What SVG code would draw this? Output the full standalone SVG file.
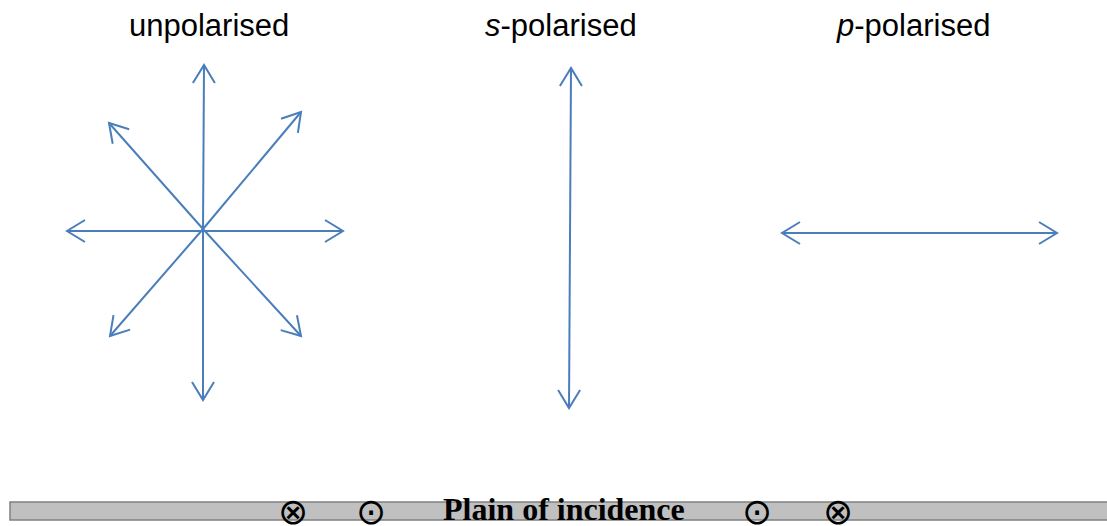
<svg xmlns="http://www.w3.org/2000/svg" width="1107" height="526" viewBox="0 0 1107 526">
<style>
.lbl{font-family:"Liberation Sans",Arial,sans-serif;font-size:31px;fill:#000}
.arr{stroke:#4A7EBB;stroke-width:2;fill:none;marker-end:url(#ah)}
.bar{fill:#c0c0c0;stroke:#808080;stroke-width:1.5}
.sym{font-family:"DejaVu Sans",sans-serif;font-weight:200;font-size:36px;fill:#000}
.plane{font-family:"Liberation Serif","Times New Roman",serif;font-weight:bold;font-size:32px;fill:#000}
</style>
<defs>
<marker id="ah" markerUnits="userSpaceOnUse" markerWidth="30" markerHeight="30" viewBox="-20 -15 24 30" refX="0" refY="0" orient="auto" overflow="visible">
<path d="M-18,-11 L0,0 L-18,11" fill="none" stroke="#4A7EBB" stroke-width="2"/>
</marker>
</defs>
<g id="labels">
<text class="lbl" x="129" y="36">unpolarised</text>
<text class="lbl" x="485" y="36"><tspan font-style="italic">s</tspan>-polarised</text>
<text class="lbl" x="837" y="36"><tspan font-style="italic">p</tspan>-polarised</text>
</g>
<g id="connectors">
<g id="unpolarised">
<line class="arr" x1="203" y1="230" x2="204" y2="65"/>
<line class="arr" x1="203" y1="230" x2="203" y2="400"/>
<line class="arr" x1="203" y1="231" x2="67" y2="231"/>
<line class="arr" x1="203" y1="231" x2="343" y2="231"/>
<line class="arr" x1="203" y1="229" x2="109" y2="123"/>
<line class="arr" x1="203" y1="229" x2="301" y2="112"/>
<line class="arr" x1="203" y1="229" x2="110" y2="336"/>
<line class="arr" x1="203" y1="229" x2="301" y2="336"/>
</g>
<g id="s-polarised">
<line class="arr" x1="570" y1="238" x2="571" y2="68"/>
<line class="arr" x1="570" y1="238" x2="569" y2="408"/>
</g>
<g id="p-polarised">
<line class="arr" x1="920" y1="233" x2="782" y2="233"/>
<line class="arr" x1="920" y1="233" x2="1057" y2="233"/>
</g>
</g>
<g id="plane">
<rect class="bar" x="10" y="502" width="1110" height="18"/>
<text class="sym" x="293" y="524" text-anchor="middle">⊗</text>
<text class="sym" x="371" y="524" text-anchor="middle">⊙</text>
<text class="plane" x="443" y="520">Plain of incidence</text>
<text class="sym" x="757" y="524" text-anchor="middle">⊙</text>
<text class="sym" x="838" y="524" text-anchor="middle">⊗</text>
</g>
</svg>
